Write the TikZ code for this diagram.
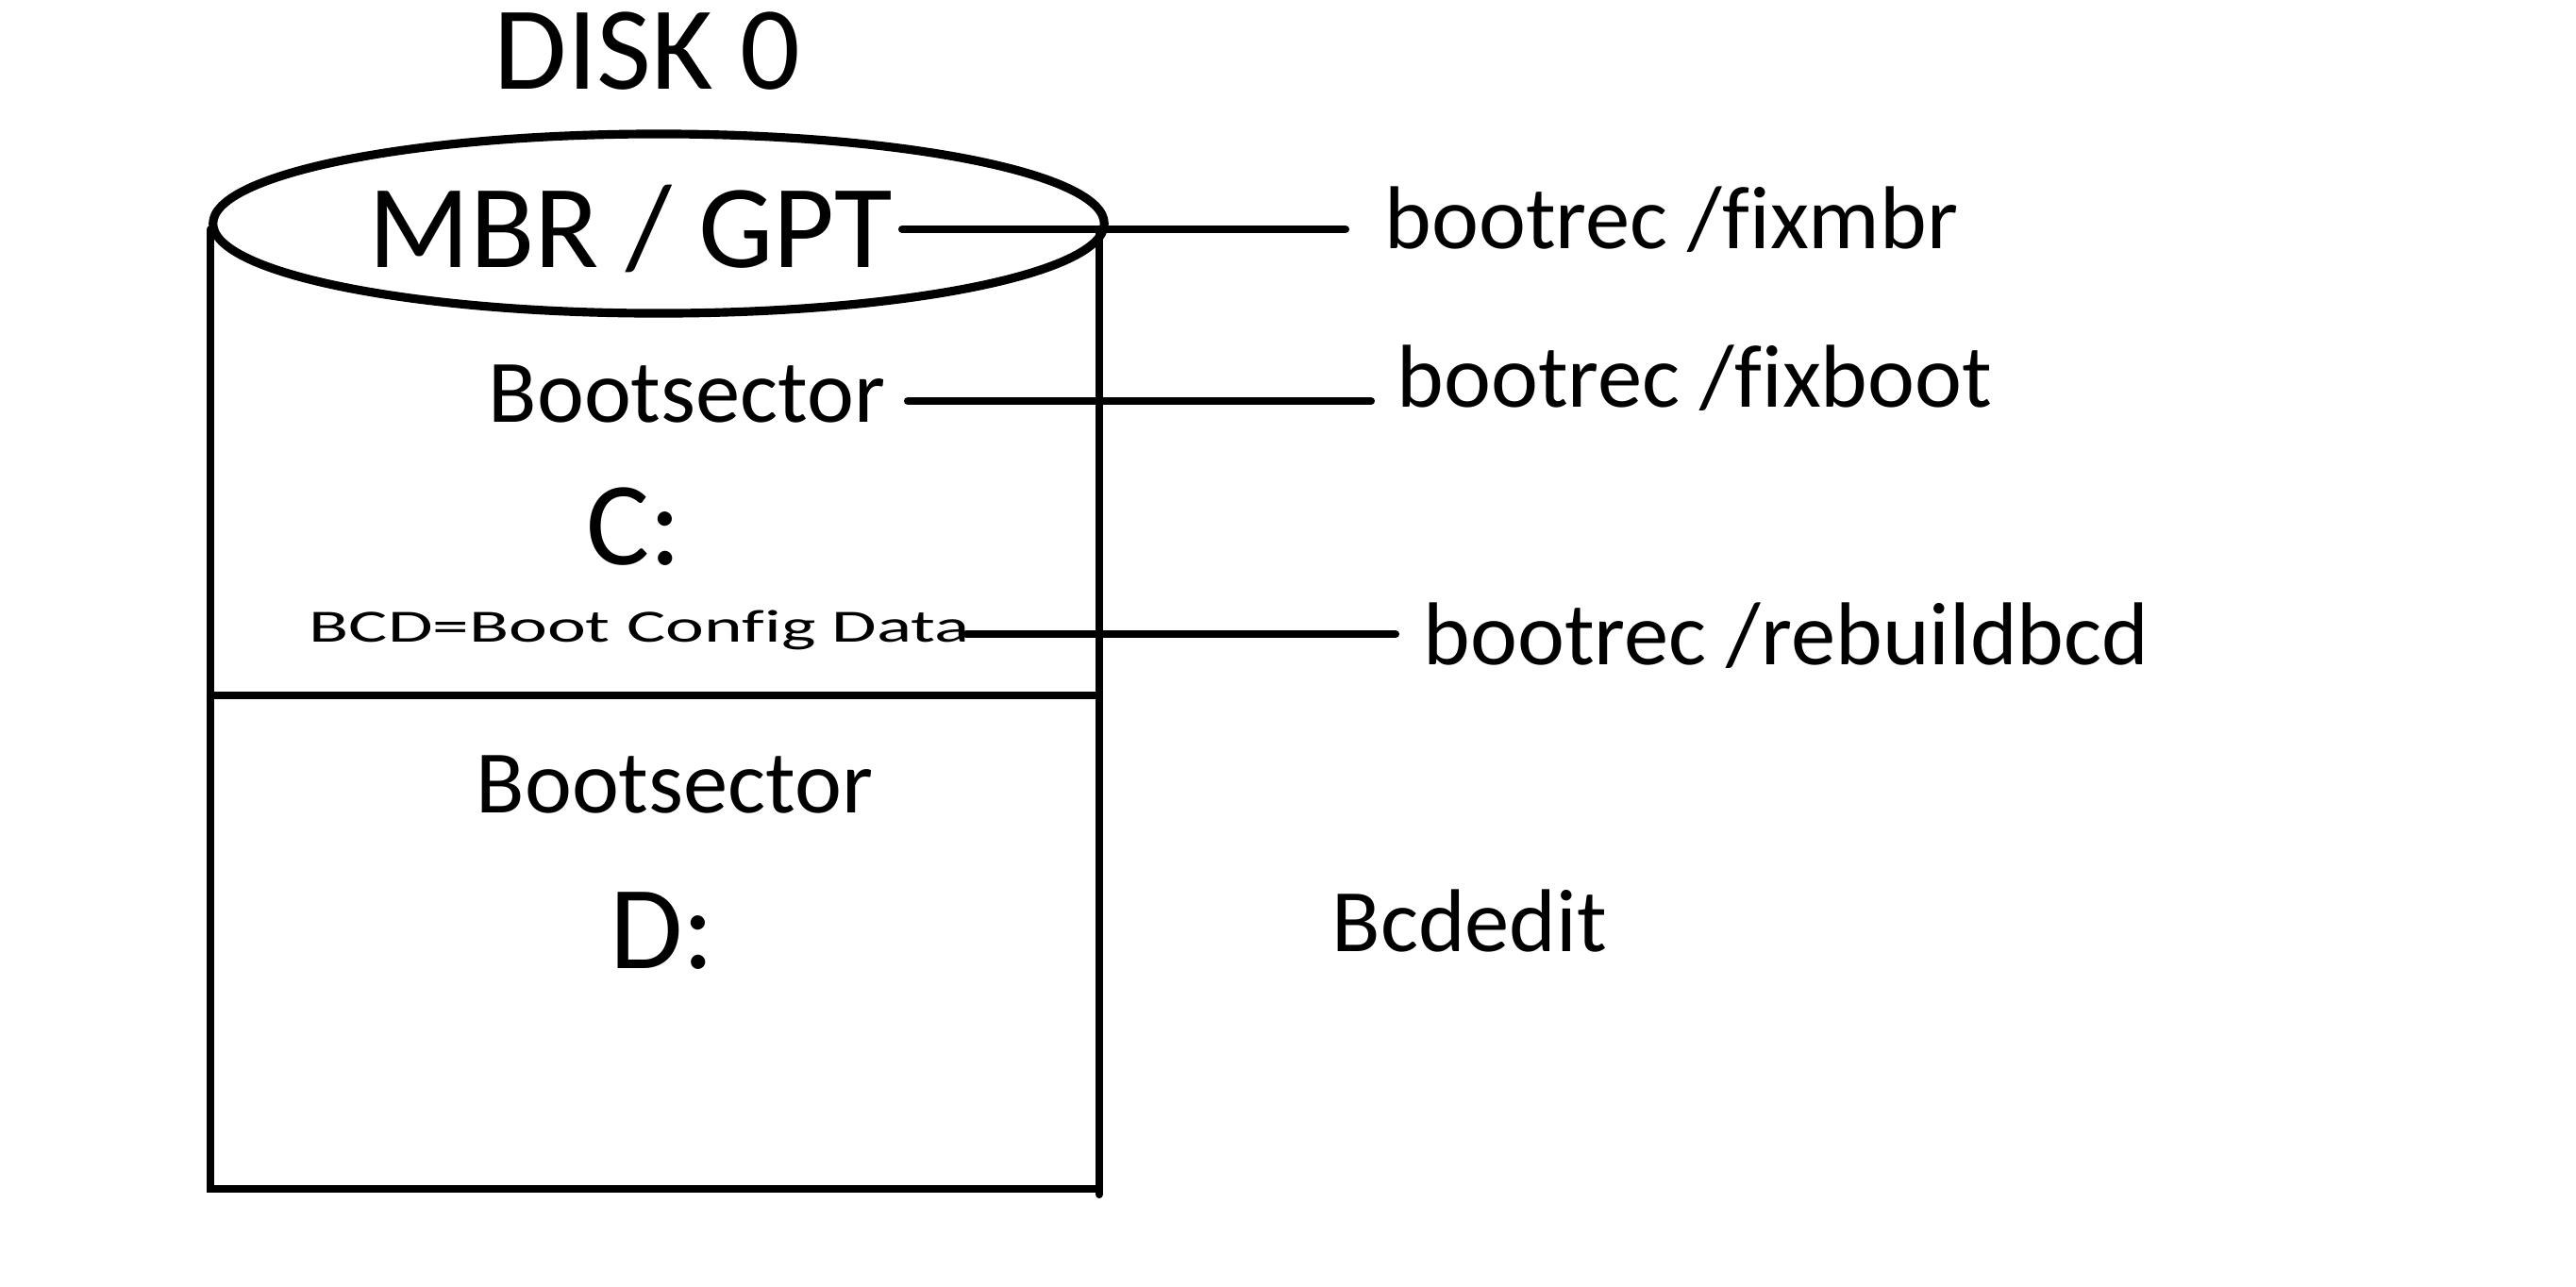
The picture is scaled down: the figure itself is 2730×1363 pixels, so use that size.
\documentclass[tikz,border=0pt]{standalone}
\usepackage{fontspec}
\usepackage{graphicx}
\setmainfont{Carlito}[Ligatures=NoCommon]
\tikzset{
  stroke/.style={line width=2.3pt, line cap=round},
  bigtxt/.style={inner sep=0pt, anchor=base, font=\fontsize{35.8}{40}\selectfont},
  midtxt/.style={inner sep=0pt, anchor=base, font=\fontsize{26.9}{30}\selectfont},
  cmdtxt/.style={inner sep=0pt, anchor=base west, font=\fontsize{26.9}{30}\selectfont},
}
\begin{document}
\begin{tikzpicture}[x=0.01cm, y=-0.01cm]
\useasboundingbox (0,0) rectangle (2730,1363);
% cylinder
\draw[line width=2.6pt] (698,237) ellipse [x radius=4.72cm, y radius=0.95cm];
\coordinate (tl) at (223,243);
\coordinate (bl) at (223,1260);
\coordinate (tr) at (1165,243);
\coordinate (br) at (1165,1260);
\coordinate (dl) at (223,737);
\coordinate (dr) at (1165,737);
\draw[stroke] (tl) -- (bl) -- (br);
\draw[stroke] (tr) -- (1165,1266);
\draw[stroke] (dl) -- (dr);
% texts
\node[bigtxt] (disk) at (686,94) {DISK 0};
\node[bigtxt] (mbr) at (668,283) {MBR / GPT};
\node[midtxt] (bsc) at (728,447) {Bootsector};
\node[bigtxt] (c) at (672,598) {C:};
\node[inner sep=0pt, anchor=base west] (bcd) at (327,680)
  {\fontsize{13.9}{16}\selectfont\resizebox{7.0cm}{\height}{BCD=Boot Config Data}};
\node[midtxt] (bsd) at (715,861) {Bootsector};
\node[bigtxt] (d) at (702,1026) {D:};
\node[cmdtxt] (fixmbr) at (1467,263) {bootrec /fixmbr};
\node[cmdtxt] (fixboot) at (1480,431) {bootrec /fixboot};
\node[cmdtxt] (rebuild) at (1508,704) {bootrec /rebuildbcd};
\node[cmdtxt] (bcdedit) at (1411,1008) {Bcdedit};
% connectors
\coordinate (m1) at (956,243);
\coordinate (m2) at (1426,243);
\coordinate (b1) at (962,425);
\coordinate (b2) at (1453,425);
\coordinate (r1) at (1024,672);
\coordinate (r2) at (1479,672);
\draw[stroke] (m1) -- (m2);
\draw[stroke] (b1) -- (b2);
\draw[stroke] (r1) -- (r2);
\end{tikzpicture}
\end{document}
